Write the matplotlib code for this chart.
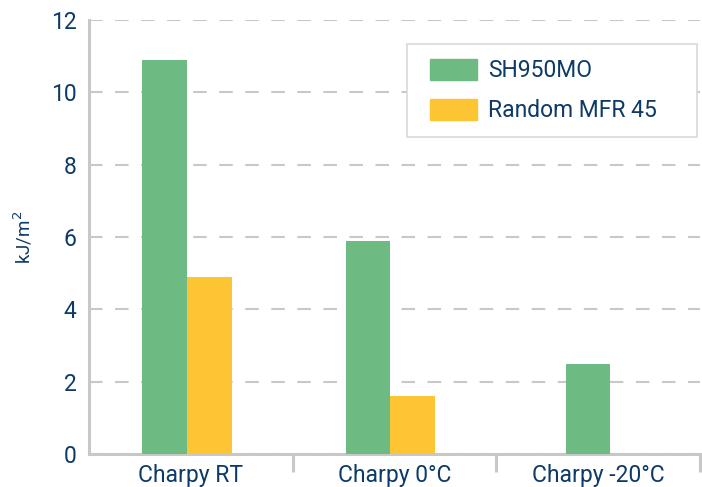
import numpy as np
import matplotlib.pyplot as plt
from matplotlib.ticker import FixedLocator
from matplotlib.patches import Rectangle

# Charpy impact data (kJ/m2)
categories = ["Charpy RT", "Charpy 0°C", "Charpy -20°C"]
sh950mo = [10.9, 5.9, 2.5]
random_mfr45 = [4.9, 1.6, np.nan]
series_names = ["SH950MO", "Random MFR 45"]
y_ticks = [0, 2, 4, 6, 8, 10, 12]

GREEN = "#6dbb83"
YELLOW = "#fdc533"
TEXT = "#0d3a66"
GRAY = "#c8c8c8"

plt.rcParams['font.family'] = ['Roboto', 'DejaVu Sans']

fig = plt.figure(figsize=(7.02, 4.87), dpi=100)
ax = fig.add_axes([0.1268, 0.0678, 0.8705, 0.8912])

width = 0.22
shift = -0.02
x = np.arange(len(categories))
for i in range(len(categories)):
    # groups with a missing value get their single bar (roughly) centred
    if np.isnan(random_mfr45[i]):
        ax.bar(x[i] - 0.05, sh950mo[i], width, color=GREEN, zorder=3)
    else:
        ax.bar(x[i] + shift - width / 2, sh950mo[i], width, color=GREEN, zorder=3)
        ax.bar(x[i] + shift + width / 2, random_mfr45[i], width, color=YELLOW, zorder=3)

ax.set_xlim(-0.5, len(categories) - 0.5)
ax.set_ylim(0, 12)
ax.set_yticks(y_ticks)
ax.set_xticks(x)
ax.set_xticklabels(categories)
ax.xaxis.set_minor_locator(FixedLocator(x + 0.5))

ax.tick_params(axis='x', which='major', length=0, pad=7, labelsize=16.5, labelcolor=TEXT)
ax.tick_params(axis='x', which='minor', length=13, width=2.2, color=GRAY)
ax.tick_params(axis='y', length=0, pad=9, labelsize=16.5, labelcolor=TEXT)

ax.yaxis.grid(True, color=GRAY, linewidth=1.5, dashes=(6.5, 6), zorder=0)
ax.set_axisbelow(True)
for s in ['top', 'right']:
    ax.spines[s].set_visible(False)
for s in ['left', 'bottom']:
    ax.spines[s].set_color(GRAY)
    ax.spines[s].set_linewidth(2.2)

ax.set_ylabel("kJ/m$^2$", color=TEXT, fontsize=13.5, labelpad=12)

# legend box drawn separately so its padding matches the original
fig.patches.append(Rectangle((407 / 702, 1 - 137 / 487), 290 / 702, 93 / 487,
                             transform=fig.transFigure, facecolor='white',
                             edgecolor="#d9d9d9", linewidth=1.2, zorder=4))
handles = [Rectangle((0, 0), 1, 1, color=GREEN), Rectangle((0, 0), 1, 1, color=YELLOW)]
leg = fig.legend(handles, series_names, loc='upper left', bbox_to_anchor=(430 / 702, 1 - 59 / 487),
                 borderaxespad=0, borderpad=0, fontsize=16.5, frameon=False,
                 handlelength=2.05, handleheight=1.05, handletextpad=0.5, labelspacing=0.72)
leg.set_zorder(5)
for t in leg.get_texts():
    t.set_color(TEXT)

fig.savefig("out.png", dpi=100)
